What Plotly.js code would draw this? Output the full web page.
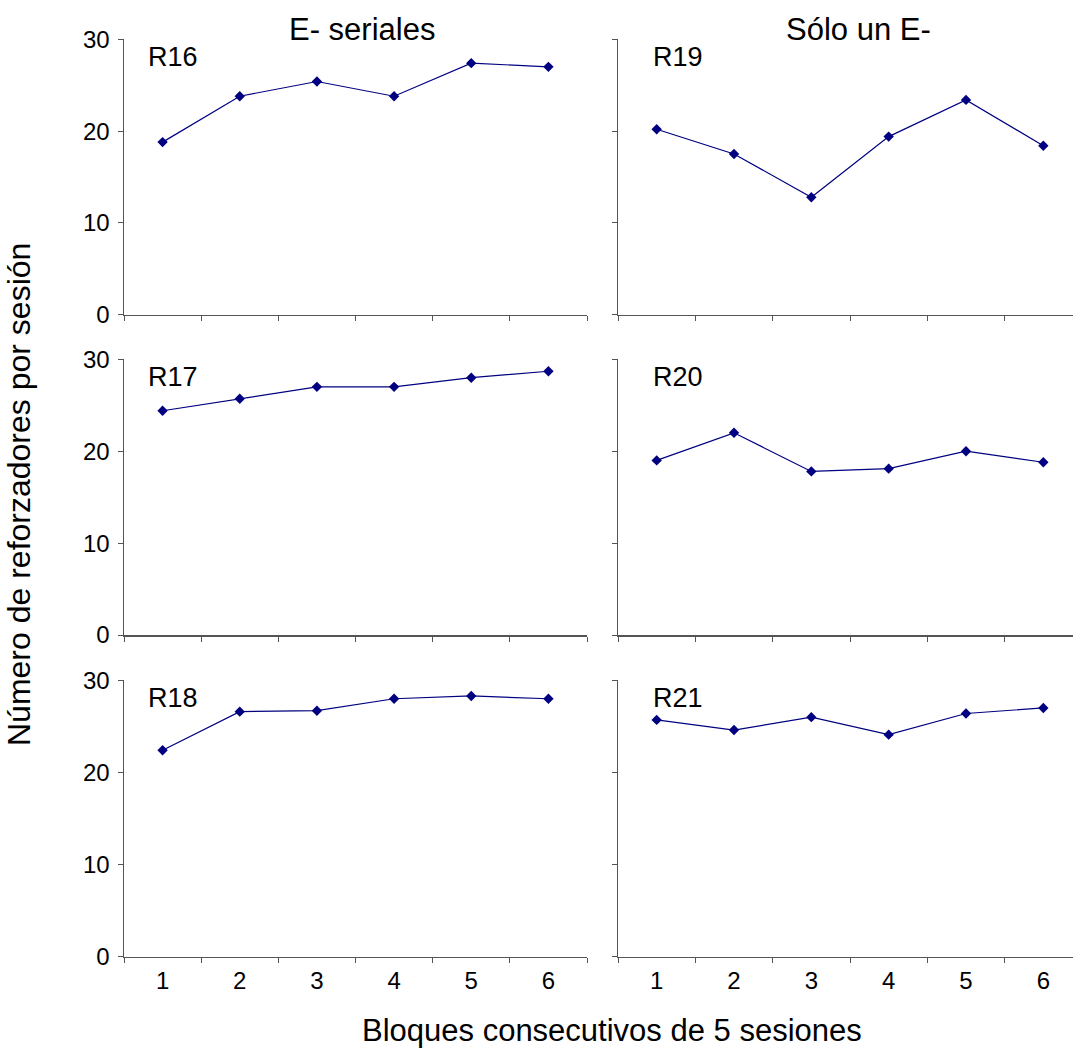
<!DOCTYPE html>
<html>
<head>
<meta charset="utf-8">
<script src="https://cdn.plot.ly/plotly-3.0.1.min.js"></script>
<style>
html, body { margin: 0; padding: 0; overflow: hidden; background: #fff; }
#chart { width: 1082px; height: 1049px; }
</style>
</head>
<body>
<div id="chart"></div>
<script>
// ---- Data ----
const blocks = ['1', '2', '3', '4', '5', '6'];
const r16 = [18.8, 23.8, 25.4, 23.8, 27.4, 27.0];
const r17 = [24.4, 25.7, 27.0, 27.0, 28.0, 28.7];
const r18 = [22.4, 26.6, 26.7, 28.0, 28.3, 28.0];
const r19 = [20.2, 17.5, 12.8, 19.4, 23.4, 18.4];
const r20 = [19.0, 22.0, 17.8, 18.1, 20.0, 18.8];
const r21 = [25.7, 24.6, 26.0, 24.1, 26.4, 27.0];
const subjectNames = ['R16', 'R19', 'R17', 'R20', 'R18', 'R21'];
const columnTitles = ['E- seriales', 'Sólo un E-'];
const yTickVals = [0, 10, 20, 30];
const xAxisTitle = 'Bloques consecutivos de 5 sesiones';
const yAxisTitle = 'Número de reforzadores por sesión';

// ---- Layout geometry (pixels) ----
const W = 1082, H = 1049;
const colPx = [[124, 587], [618, 1082]];
const rowPx = [[39.3, 314.7], [359.3, 635], [680.3, 956.7]]; // top, bottom
const FONT = 'Liberation Sans, Arial, sans-serif';
const navy = '#000080';
const axisColor = '#555555';

const seriesByPanel = [r16, r19, r17, r20, r18, r21];

const traces = [];
const layout = {
  width: W, height: H,
  margin: {l: 0, r: 0, t: 0, b: 0},
  paper_bgcolor: '#ffffff',
  plot_bgcolor: '#ffffff',
  showlegend: false,
  font: {family: FONT, color: '#000000'},
  annotations: []
};

for (let r = 0; r < 3; r++) {
  for (let c = 0; c < 2; c++) {
    const i = r * 2 + c;
    const n = i + 1;
    const xa = 'xaxis' + (n === 1 ? '' : n);
    const ya = 'yaxis' + (n === 1 ? '' : n);
    traces.push({
      type: 'scatter', mode: 'lines+markers',
      x: blocks, y: seriesByPanel[i],
      xaxis: 'x' + (n === 1 ? '' : n), yaxis: 'y' + (n === 1 ? '' : n),
      line: {color: navy, width: 1.2},
      marker: {symbol: 'diamond', size: 8, color: navy},
      cliponaxis: false
    });
    layout[xa] = {
      type: 'category',
      domain: [colPx[c][0] / W, colPx[c][1] / W],
      anchor: 'y' + (n === 1 ? '' : n),
      range: [-0.5, 5.5],
      tickson: 'boundaries',
      ticks: 'outside', ticklen: 5, tickwidth: 1, tickcolor: axisColor,
      showline: true, linecolor: axisColor, linewidth: 1.5,
      showgrid: false, zeroline: false,
      showticklabels: r === 2,
      ticklabelstandoff: 2,
      tickfont: {family: FONT, size: 24, color: '#000'},
      fixedrange: true
    };
    layout[ya] = {
      domain: [1 - rowPx[r][1] / H, 1 - rowPx[r][0] / H],
      anchor: 'x' + (n === 1 ? '' : n),
      range: [0, 30],
      tickmode: 'array', tickvals: yTickVals,
      ticks: 'outside', ticklen: 5, tickwidth: 1, tickcolor: axisColor,
      showline: true, linecolor: axisColor, linewidth: 1.5,
      showgrid: false, zeroline: false,
      showticklabels: c === 0,
      ticklabelstandoff: 3,
      tickfont: {family: FONT, size: 24, color: '#000'},
      fixedrange: true
    };
    // Subject label
    const lx = c === 0 ? 146 : 651;
    layout.annotations.push({
      xref: 'paper', yref: 'paper',
      x: lx / W, y: 1 - (rowPx[r][0] + 18) / H,
      xanchor: 'left', yanchor: 'middle',
      text: subjectNames[i], showarrow: false,
      font: {family: FONT, size: 27, color: '#000'}
    });
  }
}

// Column titles
const titleCenters = [362, 858];
for (let c = 0; c < 2; c++) {
  layout.annotations.push({
    xref: 'paper', yref: 'paper',
    x: titleCenters[c] / W, y: 1 - 29 / H,
    xanchor: 'center', yanchor: 'middle',
    text: columnTitles[c], showarrow: false,
    font: {family: FONT, size: 31, color: '#000'}
  });
}
// Axis titles
layout.annotations.push({
  xref: 'paper', yref: 'paper',
  x: 612 / W, y: 1 - 1030 / H,
  xanchor: 'center', yanchor: 'middle',
  text: xAxisTitle, showarrow: false,
  font: {family: FONT, size: 31, color: '#000'}
});
layout.annotations.push({
  xref: 'paper', yref: 'paper',
  x: 19 / W, y: 1 - 495 / H,
  xanchor: 'center', yanchor: 'middle',
  textangle: -90,
  text: yAxisTitle, showarrow: false,
  font: {family: FONT, size: 32, color: '#000'}
});

Plotly.newPlot('chart', traces, layout, {displayModeBar: false, staticPlot: true});
</script>
</body>
</html>
